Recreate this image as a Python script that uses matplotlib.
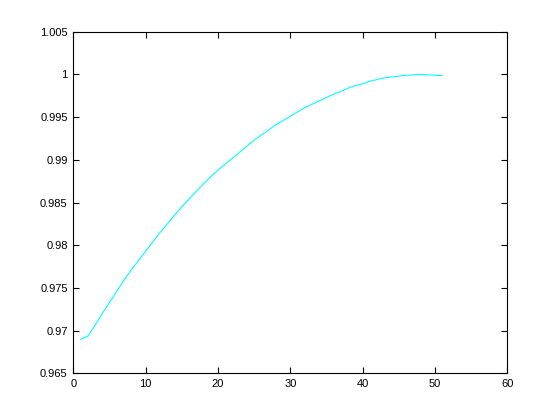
import matplotlib
matplotlib.use("Agg")
import matplotlib.pyplot as plt

x_vals = list(range(1, 52))
y_vals = [0.9690, 0.96935, 0.9706, 0.9720, 0.9733, 0.9746, 0.9759, 0.9771, 0.9782, 0.9793,
          0.9804, 0.9815, 0.9825, 0.9835, 0.9845, 0.9854, 0.9863, 0.9872, 0.9880, 0.9888,
          0.9895, 0.9902, 0.9909, 0.9916, 0.9923, 0.9929, 0.9935, 0.9941, 0.9946, 0.9951,
          0.9956, 0.9961, 0.9965, 0.9969, 0.9973, 0.9977, 0.9980, 0.9984, 0.9987, 0.9989,
          0.9992, 0.9994, 0.9996, 0.9997, 0.9998, 0.99990, 0.99995, 1.00000, 0.99995, 0.99990,
          0.99985]
x_ticks = [0, 10, 20, 30, 40, 50, 60]
x_ticklabels = ["0", "10", "20", "30", "40", "50", "60"]
y_ticks = [0.965, 0.97, 0.975, 0.98, 0.985, 0.99, 0.995, 1.0, 1.005]
y_ticklabels = ["0.965", "0.97", "0.975", "0.98", "0.985", "0.99", "0.995", "1", "1.005"]

plt.rcParams['font.family'] = ['Liberation Sans', 'DejaVu Sans']
fig = plt.figure(figsize=(5.6, 4.2), dpi=100)
ax = fig.add_axes([0.1309, 0.1112, 0.775, 0.8133])
ax.plot(x_vals, y_vals, color=(0, 1, 1), linewidth=0.8)
ax.set_xlim(0, 60)
ax.set_ylim(0.965, 1.005)
ax.set_xticks(x_ticks)
ax.set_xticklabels(x_ticklabels)
ax.set_yticks(y_ticks)
ax.set_yticklabels(y_ticklabels)
ax.tick_params(direction='in', length=4, width=0.8, top=True, right=True,
               labelsize=8, colors='black', pad=4)
for s in ax.spines.values():
    s.set_linewidth(0.8)
fig.savefig("out.png", dpi=100)
